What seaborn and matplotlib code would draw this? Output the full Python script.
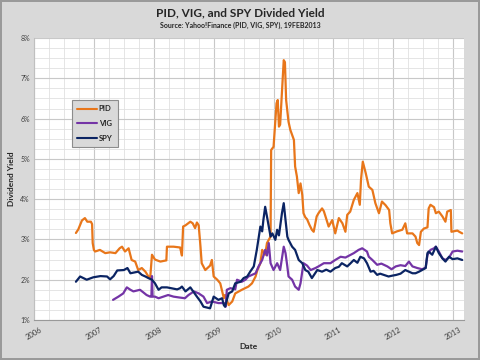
import numpy as np
import pandas as pd
import matplotlib
matplotlib.use("Agg")
import matplotlib.pyplot as plt
import seaborn as sns
from matplotlib.ticker import MultipleLocator, FuncFormatter

# Dividend yield (%); x = decimal year
pid_year = [2006.70, 2006.74, 2006.80, 2006.85, 2006.89, 2006.95, 2006.97, 2006.98, 2007.00, 2007.02,
            2007.10, 2007.19, 2007.27, 2007.36, 2007.43, 2007.47, 2007.52, 2007.58, 2007.63, 2007.69,
            2007.74, 2007.80, 2007.86, 2007.91, 2007.94, 2007.97, 2008.02, 2008.11, 2008.21, 2008.22,
            2008.33, 2008.44, 2008.47, 2008.49, 2008.53, 2008.61, 2008.65, 2008.69, 2008.72, 2008.75,
            2008.78, 2008.80, 2008.86, 2008.94, 2008.97, 2009.00, 2009.06, 2009.11, 2009.17, 2009.19,
            2009.25, 2009.31, 2009.36, 2009.47, 2009.58, 2009.64, 2009.70, 2009.73, 2009.78, 2009.81,
            2009.86, 2009.89, 2009.95, 2009.96, 2010.00, 2010.05, 2010.07, 2010.09, 2010.11, 2010.14,
            2010.17, 2010.19, 2010.21, 2010.25, 2010.28, 2010.34, 2010.36, 2010.39, 2010.42, 2010.45,
            2010.48, 2010.50, 2010.53, 2010.56, 2010.60, 2010.64, 2010.67, 2010.72, 2010.75, 2010.81,
            2010.84, 2010.92, 2010.98, 2011.03, 2011.09, 2011.15, 2011.20, 2011.23, 2011.28, 2011.34,
            2011.40, 2011.44, 2011.46, 2011.49, 2011.54, 2011.59, 2011.65, 2011.70, 2011.76, 2011.81,
            2011.87, 2011.93, 2011.95, 2011.98, 2012.06, 2012.15, 2012.20, 2012.23, 2012.32, 2012.37,
            2012.40, 2012.43, 2012.46, 2012.51, 2012.57, 2012.59, 2012.62, 2012.68, 2012.71, 2012.76,
            2012.82, 2012.87, 2012.90, 2012.96, 2012.97, 2013.07, 2013.10, 2013.15]
pid_yield = [3.16, 3.25, 3.47, 3.53, 3.44, 3.44, 3.38, 2.91, 2.74, 2.70,
             2.74, 2.66, 2.68, 2.66, 2.78, 2.82, 2.70, 2.78, 2.49, 2.45,
             2.24, 2.29, 2.20, 2.08, 2.04, 2.62, 2.50, 2.45, 2.48, 2.82,
             2.82, 2.80, 2.60, 3.32, 3.35, 3.44, 3.40, 3.28, 3.42, 3.35,
             2.82, 2.41, 2.24, 2.35, 2.49, 2.08, 2.00, 1.91, 1.54, 1.62,
             1.37, 1.46, 1.66, 1.75, 1.83, 1.91, 2.08, 2.24, 2.41, 2.74,
             2.62, 2.91, 3.07, 5.22, 5.30, 6.38, 6.46, 5.80, 5.85, 6.63,
             7.45, 7.40, 6.46, 5.92, 5.72, 5.47, 4.81, 4.56, 4.15, 4.39,
             4.10, 3.65, 3.55, 3.50, 3.36, 3.24, 3.19, 3.57, 3.65, 3.77,
             3.70, 3.32, 3.48, 3.15, 3.53, 3.40, 3.19, 3.61, 3.69, 3.98,
             4.15, 3.86, 4.48, 4.93, 4.64, 4.31, 4.23, 3.90, 3.65, 3.94,
             3.85, 3.73, 3.40, 3.15, 3.20, 3.24, 3.40, 3.15, 3.15, 3.07,
             2.91, 2.86, 3.19, 3.27, 3.30, 3.77, 3.86, 3.80, 3.65, 3.69,
             3.57, 3.44, 3.69, 3.73, 3.19, 3.22, 3.19, 3.15]

vig_year = [2007.32, 2007.41, 2007.49, 2007.55, 2007.61, 2007.66, 2007.77, 2007.83, 2007.88, 2007.94,
            2007.96, 2007.97, 2007.98, 2008.02, 2008.08, 2008.16, 2008.24, 2008.33, 2008.42, 2008.52,
            2008.58, 2008.67, 2008.75, 2008.83, 2008.89, 2008.97, 2009.08, 2009.17, 2009.20, 2009.22,
            2009.28, 2009.36, 2009.39, 2009.47, 2009.53, 2009.58, 2009.70, 2009.75, 2009.81, 2009.86,
            2009.89, 2009.92, 2009.95, 2010.00, 2010.06, 2010.11, 2010.17, 2010.20, 2010.23, 2010.25,
            2010.31, 2010.36, 2010.42, 2010.45, 2010.50, 2010.56, 2010.62, 2010.70, 2010.75, 2010.84,
            2010.95, 2011.03, 2011.12, 2011.20, 2011.34, 2011.42, 2011.48, 2011.56, 2011.59, 2011.65,
            2011.73, 2011.80, 2011.90, 2011.97, 2012.04, 2012.12, 2012.20, 2012.26, 2012.32, 2012.40,
            2012.48, 2012.54, 2012.57, 2012.62, 2012.68, 2012.71, 2012.76, 2012.82, 2012.87, 2012.93,
            2012.99, 2013.07, 2013.15]
vig_yield = [1.50, 1.58, 1.66, 1.81, 1.75, 1.71, 1.75, 1.68, 1.62, 1.58,
             1.58, 2.09, 1.58, 1.58, 1.54, 1.58, 1.62, 1.58, 1.56, 1.54,
             1.62, 1.71, 1.66, 1.58, 1.42, 1.46, 1.42, 1.42, 1.33, 1.75,
             1.79, 1.76, 2.00, 1.95, 2.00, 2.08, 2.16, 2.33, 2.49, 2.74,
             2.60, 2.91, 2.41, 2.24, 2.41, 2.24, 2.82, 2.66, 2.33, 2.08,
             2.00, 1.83, 1.75, 1.91, 2.41, 2.35, 2.24, 2.29, 2.33, 2.41,
             2.41, 2.49, 2.57, 2.55, 2.66, 2.74, 2.78, 2.70, 2.57, 2.49,
             2.37, 2.40, 2.33, 2.26, 2.33, 2.36, 2.34, 2.45, 2.33, 2.29,
             2.26, 2.30, 2.62, 2.74, 2.78, 2.82, 2.70, 2.53, 2.49, 2.55,
             2.70, 2.72, 2.70]

spy_year = [2006.70, 2006.77, 2006.88, 2006.99, 2007.11, 2007.22, 2007.27, 2007.33, 2007.39, 2007.50,
            2007.56, 2007.61, 2007.74, 2007.80, 2007.86, 2007.91, 2007.97, 2008.02, 2008.08, 2008.13,
            2008.22, 2008.39, 2008.44, 2008.47, 2008.53, 2008.61, 2008.72, 2008.78, 2008.83, 2008.94,
            2009.00, 2009.08, 2009.14, 2009.17, 2009.19, 2009.25, 2009.31, 2009.36, 2009.45, 2009.50,
            2009.56, 2009.61, 2009.67, 2009.72, 2009.78, 2009.81, 2009.83, 2009.86, 2009.89, 2009.95,
            2009.98, 2010.03, 2010.06, 2010.09, 2010.14, 2010.17, 2010.20, 2010.23, 2010.25, 2010.31,
            2010.36, 2010.42, 2010.48, 2010.53, 2010.58, 2010.64, 2010.73, 2010.81, 2010.88, 2010.95,
            2011.03, 2011.09, 2011.14, 2011.23, 2011.28, 2011.34, 2011.40, 2011.45, 2011.51, 2011.56,
            2011.62, 2011.67, 2011.73, 2011.78, 2011.84, 2011.92, 2011.98, 2012.05, 2012.12, 2012.20,
            2012.26, 2012.32, 2012.37, 2012.43, 2012.48, 2012.54, 2012.57, 2012.59, 2012.65, 2012.71,
            2012.76, 2012.82, 2012.87, 2012.93, 2012.99, 2013.07, 2013.15]
spy_yield = [1.95, 2.08, 2.00, 2.06, 2.09, 2.08, 2.01, 2.09, 2.23, 2.24,
             2.29, 2.16, 2.20, 2.12, 2.08, 2.04, 2.00, 1.91, 1.75, 1.81,
             1.81, 1.76, 1.79, 1.83, 1.71, 1.81, 1.58, 1.46, 1.33, 1.29,
             1.58, 1.50, 1.54, 1.37, 1.33, 1.66, 1.71, 1.91, 1.95, 2.04,
             2.08, 2.20, 2.33, 2.74, 3.32, 3.20, 3.48, 3.81, 3.57, 3.07,
             3.15, 2.99, 3.24, 3.10, 3.65, 3.90, 3.48, 3.07, 2.99, 2.82,
             2.74, 2.49, 2.41, 2.24, 2.20, 2.04, 2.24, 2.20, 2.25, 2.20,
             2.29, 2.32, 2.41, 2.33, 2.40, 2.49, 2.42, 2.57, 2.53, 2.41,
             2.20, 2.22, 2.12, 2.15, 2.12, 2.08, 2.10, 2.12, 2.15, 2.24,
             2.20, 2.16, 2.16, 2.20, 2.24, 2.29, 2.66, 2.70, 2.62, 2.82,
             2.66, 2.53, 2.45, 2.57, 2.51, 2.53, 2.49]

year_ticks = [2006, 2007, 2008, 2009, 2010, 2011, 2012, 2013]
colors = {"PID": "#E8761A", "VIG": "#7434A6", "SPY": "#0B2463"}

df = pd.concat([
    pd.DataFrame({"Date": pid_year, "Yield": pid_yield, "Fund": "PID"}),
    pd.DataFrame({"Date": vig_year, "Yield": vig_yield, "Fund": "VIG"}),
    pd.DataFrame({"Date": spy_year, "Yield": spy_yield, "Fund": "SPY"}),
], ignore_index=True)

sns.set_style("white")
plt.rcParams["font.family"] = ["Lato", "DejaVu Sans"]

fig = plt.figure(figsize=(4.8, 3.6), dpi=100)
fig.patch.set_facecolor("#d9d9d9")
fig.patch.set_edgecolor("#9a9a9a")
fig.patch.set_linewidth(1.5)

ax = fig.add_axes([34 / 480, 1 - 320 / 360, 430 / 480, 282 / 360])
ax.set_facecolor("white")

sns.lineplot(data=df, x="Date", y="Yield", hue="Fund", palette=colors,
             hue_order=["PID", "VIG", "SPY"], linewidth=1.6, ax=ax,
             estimator=None, sort=False)

ax.set_xlim(2006, 2013.18)
ax.set_ylim(1, 8)
ax.set_xticks(year_ticks)
ax.set_xticklabels([str(y) for y in year_ticks], rotation=30, fontsize=5.5,
                   color="#404040")
ax.xaxis.set_minor_locator(MultipleLocator(0.25))
ax.yaxis.set_major_locator(MultipleLocator(1))
ax.yaxis.set_minor_locator(MultipleLocator(0.25))
ax.yaxis.set_major_formatter(FuncFormatter(lambda v, p: f"{v:.0f}%"))
ax.tick_params(axis="y", labelsize=5, colors="#404040", length=0, pad=3)
ax.tick_params(axis="x", length=3, color="#999999", pad=1)
ax.tick_params(which="minor", length=0)

ax.grid(which="major", color="#c8c8c8", linewidth=0.8)
ax.grid(which="minor", color="#e0e0e0", linewidth=0.6)
ax.set_axisbelow(True)
for side in ["top", "right"]:
    ax.spines[side].set_visible(False)
ax.spines["left"].set_color("#bfbfbf")
ax.spines["bottom"].set_color("#999999")
ax.spines["left"].set_linewidth(0.8)
ax.spines["bottom"].set_linewidth(0.8)

ax.set_xlabel("Date", fontsize=6, fontweight="bold", labelpad=2)
ax.set_ylabel("Dividend Yield", fontsize=6, fontweight="bold", labelpad=4)

leg = ax.legend(loc="upper left", bbox_to_anchor=(72 / 480, 1 - 100 / 360),
                bbox_transform=fig.transFigure, frameon=True, fancybox=False,
                fontsize=5.5, handlelength=2.6, handletextpad=0.2,
                labelspacing=1.0, borderpad=0.7, borderaxespad=0)
leg.get_frame().set_facecolor("#d9d9d9")
leg.get_frame().set_edgecolor("#8c8c8c")
leg.get_frame().set_linewidth(0.8)
leg.get_frame().set_alpha(1)
for t in leg.get_texts():
    t.set_fontweight("bold")
for h in leg.legend_handles:
    h.set_linewidth(1.5)

fig.text(0.5, 1 - 13 / 360, "PID, VIG, and SPY Divided Yield", ha="center",
         va="center", fontsize=8.5, fontweight="bold")
fig.text(0.5, 1 - 25 / 360, "Source: Yahoo!Finance (PID, VIG, SPY), 19FEB2013",
         ha="center", va="center", fontsize=5, fontweight="bold")

fig.savefig("out.png", dpi=100, facecolor=fig.get_facecolor(),
            edgecolor=fig.get_edgecolor())
